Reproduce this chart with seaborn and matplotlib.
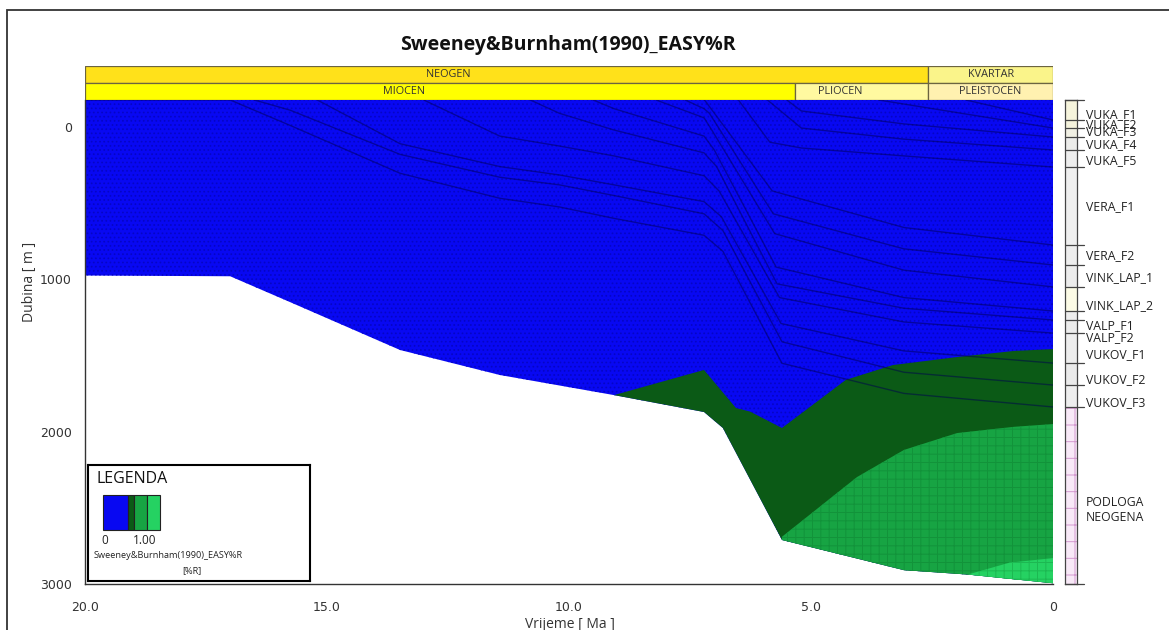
import numpy as np
import pandas as pd
import matplotlib
matplotlib.use("Agg")
import matplotlib.pyplot as plt
from matplotlib.patches import Rectangle
import matplotlib.transforms as mtransforms
import seaborn as sns

# ---------------- data ----------------
TITLE = "Sweeney&Burnham(1990)_EASY%R"
X_LABEL = "Vrijeme [ Ma ]"
Y_LABEL = "Dubina [ m ]"
X_TICKS = [20.0, 15.0, 10.0, 5.0, 0.0]
X_TICK_LABELS = ["20.0", "15.0", "10.0", "5.0", "0"]
Y_TICKS = [0, 1000, 2000, 3000]
SURFACE = -177
DEPTH_MAX = 3000

PERIOD_NAMES = ["NEOGEN", "KVARTAR"]
PERIOD_START = [20.0, 2.58]
PERIOD_END = [2.58, 0.0]
PERIOD_LABEL_AT = [12.5, 1.29]
EPOCH_NAMES = ["MIOCEN", "PLIOCEN", "PLEISTOCEN"]
EPOCH_START = [20.0, 5.33, 2.58]
EPOCH_END = [5.33, 2.58, 0.0]
EPOCH_LABEL_AT = [13.4, 4.4, 1.29]

FORMATIONS = ["VUKA_F1", "VUKA_F2", "VUKA_F3", "VUKA_F4", "VUKA_F5", "VERA_F1",
              "VERA_F2", "VINK_LAP_1", "VINK_LAP_2", "VALP_F1", "VALP_F2",
              "VUKOV_F1", "VUKOV_F2", "VUKOV_F3", "PODLOGA\nNEOGENA"]
FORM_TOP = [-177, -46, 7, 66, 151, 263, 775, 906, 1050, 1208, 1267, 1353, 1550, 1694, 1838]
FORM_LABEL_DEPTH = [-82, -14, 28, 118, 223, 525, 847, 991, 1175, 1306, 1385, 1497, 1661, 1812, 2514]

# lower limit of the model (white area below)
BASE_T = [20, 17, 15.76, 13.49, 11.43, 9.07, 7.21, 6.82, 5.6, 3.08, 1.76, 0]
BASE_D = [975, 980, 1150, 1464, 1628, 1760, 1871, 1976, 2711, 2909, 2938, 2995]

# EASY%R zone boundaries
DKGREEN_T = [9.07, 7.21, 6.55, 6.26, 5.6, 4.28, 3.31, 1.98, 0.8, 0]
DKGREEN_D = [1760, 1595, 1845, 1868, 1976, 1660, 1563, 1510, 1470, 1458]
MDGREEN_T = [5.6, 4.05, 3.08, 1.98, 0.8, 0]
MDGREEN_D = [2690, 2298, 2120, 2009, 1968, 1950]
LTGREEN_T = [1.76, 0.9, 0]
LTGREEN_D = [2938, 2860, 2830]

# burial-history horizons (age Ma, depth m)
H14_T = [20, 17, 15.76, 13.49, 11.43, 10.2, 9.07, 7.21, 6.82, 5.6, 3.08, 0]
H14_D = [-177, -177, -10, 304, 468, 525, 600, 711, 816, 1551, 1749, 1838]
H13_T = [16.5, 15.76, 13.49, 11.43, 10.2, 9.07, 7.21, 6.82, 5.6, 3.08, 0]
H13_D = [-177, -110, 180, 330, 380, 450, 570, 680, 1410, 1610, 1694]
H12_T = [15.2, 13.49, 11.43, 10.2, 9.07, 7.21, 6.85, 5.62, 3.08, 0]
H12_D = [-177, 110, 260, 315, 380, 490, 590, 1290, 1470, 1550]
H11_T = [13.0, 11.43, 10.2, 9.07, 7.21, 6.9, 5.65, 3.08, 0]
H11_D = [-177, 60, 125, 190, 320, 420, 1120, 1280, 1353]
H10_T = [10.8, 10.2, 9.07, 7.21, 6.95, 5.7, 3.08, 0]
H10_D = [-177, -90, 20, 170, 260, 1030, 1190, 1267]
H9_T = [9.5, 9.07, 7.21, 7.0, 5.72, 3.08, 0]
H9_D = [-177, -120, 60, 150, 920, 1120, 1208]
H8_T = [8.2, 7.21, 7.05, 5.75, 3.08, 0]
H8_D = [-177, -60, 20, 700, 940, 1050]
H7_T = [7.6, 7.21, 7.1, 5.78, 3.08, 0]
H7_D = [-177, -120, -90, 570, 800, 906]
H6_T = [7.2, 5.8, 3.08, 0]
H6_D = [-177, 420, 660, 775]
H5_T = [6.5, 5.85, 5.2, 3.08, 0]
H5_D = [-177, 100, 138, 190, 263]
H4_T = [5.9, 5.2, 3.08, 0]
H4_D = [-177, 7, 80, 151]
H3_T = [5.5, 5.2, 3.08, 0]
H3_D = [-177, -105, -20, 66]
H2_T = [3.6, 0]
H2_D = [-177, 7]
H1_T = [1.8, 0]
H1_D = [-177, -46]

# ---------------- style ----------------
sns.set_theme(style="white")
plt.rcParams["font.family"] = ["Open Sans", "DejaVu Sans"]
plt.rcParams["hatch.linewidth"] = 0.7

BLUE = "#0808F2"
DKGREEN = "#0B5A16"
MDGREEN = "#17A443"
LTGREEN = "#25D262"

W, H = 1169, 630
fig = plt.figure(figsize=(W / 100, H / 100), dpi=100)
fig.patch.set_facecolor("white")


def fx(px):
    return px / W


def fy(py):
    return 1 - py / H


# outer frame
fig.patches.append(Rectangle((fx(7), -0.1), 1.2, 1.1 - 10 / H, transform=fig.transFigure,
                             fill=False, edgecolor="#333333", lw=1.3))

# ---------------- main axes ----------------
ax = fig.add_axes([fx(85), fy(584), fx(1053) - fx(85), fy(100) - fy(584)])
ax.set_xlim(20, 0)
ax.set_ylim(DEPTH_MAX, SURFACE)
ax.set_facecolor("white")

base_t = np.array(BASE_T)
base_d = np.array(BASE_D)

ax.fill_between(BASE_T, SURFACE, BASE_D, facecolor=BLUE, edgecolor="#0505C4",
                lw=0, hatch="....", zorder=1)


def zone(top_t, top_d, color, hatch=None, hcolor=None):
    m = base_t <= top_t[0]
    xs = np.concatenate([top_t, base_t[m][::-1]])
    ys = np.concatenate([top_d, base_d[m][::-1]])
    ax.fill(xs, ys, facecolor=color, edgecolor=hcolor if hcolor else color,
            lw=0, hatch=hatch, zorder=2)


zone(DKGREEN_T, DKGREEN_D, DKGREEN)
zone(MDGREEN_T, MDGREEN_D, MDGREEN, hatch="++", hcolor="#12933A")
zone(LTGREEN_T, LTGREEN_D, LTGREEN, hatch="++", hcolor="#1DB852")

horizons = [(H1_T, H1_D), (H2_T, H2_D), (H3_T, H3_D), (H4_T, H4_D), (H5_T, H5_D),
            (H6_T, H6_D), (H7_T, H7_D), (H8_T, H8_D), (H9_T, H9_D), (H10_T, H10_D),
            (H11_T, H11_D), (H12_T, H12_D), (H13_T, H13_D), (H14_T, H14_D)]
rows = []
for i, (tt, dd) in enumerate(horizons):
    for t, d in zip(tt, dd):
        rows.append({"t": t, "d": d, "h": i})
hdf = pd.DataFrame(rows)
sns.lineplot(data=hdf, x="t", y="d", units="h", estimator=None, sort=False,
             color="#000050", lw=1.0, alpha=0.5, ax=ax, legend=False, zorder=3)
ax.set_xlim(20, 0)
ax.set_ylim(DEPTH_MAX, SURFACE)
ax.set_xlabel("")
ax.set_ylabel("")

for s in ["top", "right"]:
    ax.spines[s].set_visible(False)
for s in ["left", "bottom"]:
    ax.spines[s].set_color("#333333")
    ax.spines[s].set_linewidth(1.0)
    ax.spines[s].set_zorder(5)

ax.set_xticks(X_TICKS)
ax.set_xticklabels(X_TICK_LABELS)
ax.set_xticks(np.arange(0, 20.01, 1.0), minor=True)
ax.set_yticks(Y_TICKS)
ax.set_yticks(np.arange(0, 3001, 200), minor=True)
ax.tick_params(axis="both", which="major", direction="out", length=6, width=1,
               color="#333333", labelsize=9, labelcolor="#333333")
ax.tick_params(axis="both", which="minor", direction="out", length=3, width=0.8,
               color="#333333")
ax.tick_params(axis="x", pad=6)
for lab in ax.get_xticklabels() + ax.get_yticklabels():
    lab.set_family("DejaVu Sans")

# legend box
lg = fig.add_axes([fx(88), fy(581), fx(310) - fx(88), fy(465) - fy(581)])
lg.set_xlim(0, 222)
lg.set_ylim(116, 0)
lg.set_facecolor("white")
lg.set_xticks([])
lg.set_yticks([])
for s in lg.spines.values():
    s.set_color("black")
    s.set_linewidth(1.5)
lg.text(8, 14, "LEGENDA", fontsize=11.5, va="center", ha="left", color="#111111")
for x0, x1, c in [(15, 40, BLUE), (40, 46, DKGREEN), (46, 59, MDGREEN), (59, 72, LTGREEN)]:
    lg.add_patch(Rectangle((x0, 30), x1 - x0, 35, facecolor=c, edgecolor="#222222", lw=0.8))
lg.text(17, 76, "0", fontsize=8.5, va="center", ha="center", color="#222222")
lg.text(57, 76, "1.00", fontsize=8.5, va="center", ha="center", color="#222222")
lg.text(80, 91, TITLE, fontsize=6.6, va="center", ha="center", color="#222222")
lg.text(104, 106, "[%R]", fontsize=6.6, va="center", ha="center", color="#222222")

# ---------------- time-scale bands ----------------
bx = fig.add_axes([fx(85), fy(100), fx(1053) - fx(85), fy(66) - fy(100)])
bx.set_xlim(20, 0)
bx.set_ylim(0, 2)
bx.axis("off")
period_colors = ["#FFE11A", "#FAF48A"]
epoch_colors = ["#FFFF00", "#FFF9A0", "#FFF1B0"]
for s, e, c in zip(PERIOD_START, PERIOD_END, period_colors):
    bx.add_patch(Rectangle((e, 1), s - e, 1, facecolor=c, edgecolor="#6B6440", lw=0.9))
for s, e, c in zip(EPOCH_START, EPOCH_END, epoch_colors):
    bx.add_patch(Rectangle((e, 0), s - e, 1, facecolor=c, edgecolor="#6B6440", lw=0.9))
for n, x in zip(PERIOD_NAMES, PERIOD_LABEL_AT):
    bx.text(x, 1.5, n, fontsize=7.8, ha="center", va="center", color="#333333")
for n, x in zip(EPOCH_NAMES, EPOCH_LABEL_AT):
    bx.text(x, 0.5, n, fontsize=7.8, ha="center", va="center", color="#333333")

# ---------------- formation column ----------------
cx = fig.add_axes([fx(1065), fy(584), fx(1077) - fx(1065), fy(100) - fy(584)])
cx.set_xlim(0, 1)
cx.set_ylim(DEPTH_MAX, SURFACE)
cx.set_xticks([])
cx.set_yticks([])
for s in cx.spines.values():
    s.set_color("#444444")
    s.set_linewidth(0.9)
col_colors = ["#F6F4DC", "#F4F2DC", "#F1F0E4", "#ECECEA", "#EDEDED", "#EFEFEF",
              "#EDEDED", "#ECECEC", "#FCFBE6", "#EDEDED", "#ECECEC", "#EDEDED",
              "#EAEAEA", "#EEEEEE", "#F8E9F7"]
bottoms = FORM_TOP[1:] + [DEPTH_MAX]
for i, (top, bot) in enumerate(zip(FORM_TOP, bottoms)):
    hatch = "+" if i == len(FORM_TOP) - 1 else None
    cx.fill_between([0, 1], top, bot, facecolor=col_colors[i],
                    edgecolor="#D49AD0" if hatch else col_colors[i], lw=0, hatch=hatch)
trans = mtransforms.blended_transform_factory(cx.transAxes, cx.transData)
for top in FORM_TOP + [DEPTH_MAX]:
    cx.plot([0, 1.55], [top, top], color="#444444", lw=0.9, transform=trans, clip_on=False)
for name, d in zip(FORMATIONS, FORM_LABEL_DEPTH):
    cx.text(1.75, d, name, fontsize=8.8, ha="left", va="center", color="#222222",
            transform=trans, clip_on=False, linespacing=1.25)

# ---------------- titles ----------------
fig.text(fx(568), fy(45), TITLE, fontsize=14, fontweight="bold", ha="center", va="center",
         color="#111111")
fig.text(fx(30), fy(282), Y_LABEL, fontsize=10, rotation=90, ha="center", va="center",
         color="#333333")
fig.text(fx(570), fy(624), X_LABEL, fontsize=10, ha="center", va="center", color="#333333")

fig.savefig("out.png", dpi=100, facecolor="white")
